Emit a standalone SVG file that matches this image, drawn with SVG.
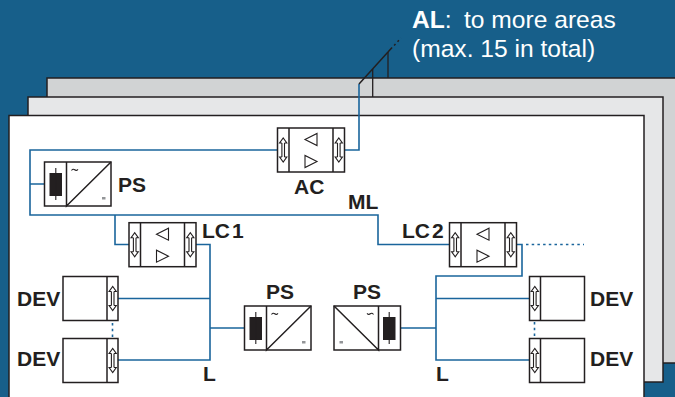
<svg xmlns="http://www.w3.org/2000/svg" width="675" height="397" viewBox="0 0 675 397">
<style>
.box{fill:#fff;stroke:#231f20;stroke-width:1.5}
.ln{fill:none;stroke:#231f20;stroke-width:1.5}
.thin{fill:none;stroke:#231f20;stroke-width:1.1}
.w{fill:none;stroke:#1a659c;stroke-width:1.6}
.d{fill:none;stroke:#1a659c;stroke-width:1.6;stroke-dasharray:2.5 3.2}
.t{font-family:"Liberation Sans",Arial,sans-serif;font-weight:700;font-size:21px;fill:#231f20}
.h{font-family:"Liberation Sans",Arial,sans-serif;font-size:24.6px;fill:#fff}
</style>
<defs>
<path id="arr" class="thin" d="M-1.3-7V7M1.3-7V7M-1.3-7H-3.6L0-12 3.6-7H1.3M-1.300 7H-3.600L0 12 3.600 7H1.300"/>
<g id="coupler">
<rect class="box" x="0" y="0" width="67" height="44"/>
<path class="ln" d="M11.500 0V44M55.500 0V44"/>
<use href="#arr" x="5.700" y="22"/><use href="#arr" x="61.300" y="22"/>
<path class="thin" d="M39.500 5.500V17.500L27.500 11.500ZM27.500 27.500V39.500L39.500 33.500Z"/>
</g>
<g id="dev">
<rect class="box" x="0" y="0" width="55" height="44"/>
<path class="ln" d="M44 0V44"/>
<use href="#arr" x="49.700" y="22"/>
</g>
<g id="ps">
<rect class="box" x="0" y="0" width="66.500" height="44"/>
<path class="ln" d="M22 0V44L66.500 0"/>
<rect x="5" y="11" width="12.500" height="23" fill="#231f20"/>
<path class="thin" d="M11.300 6V38"/>
<path class="thin" d="M27 8.500q1.500-2 3.200-.7t3.300-.5"/>
<rect x="57.500" y="35" width="3.500" height="2.500" fill="#939598"/>
</g>
</defs>
<rect width="675" height="397" fill="#175f8a"/>
<g id="sheet-3"><rect x="47" y="78" width="640" height="285" fill="#d1d3d4" stroke="#231f20" stroke-width="1.500"/></g>
<g id="sheet-2"><rect x="28" y="97" width="635" height="285" fill="#e6e7e8" stroke="#231f20" stroke-width="1.500"/></g>
<g id="sheet-1"><rect x="9" y="115.500" width="635" height="290" fill="#fff" stroke="#231f20" stroke-width="1.500"/></g>
<g id="connectors">
<path class="w" d="M277 150H30V215H378V244.500H450M30 184H44M115 215V244.500H129M196 244.500H210V360H118M118 298.500H210M210 328H244.500"/>
<path class="w" d="M345 150H359V84"/>
<path class="w" d="M516 244.500H522V276H436V360H529M436 298.500H529M400 328H436"/>
<path class="d" d="M526 244.500H584M112.500 323V338M534.500 322V337"/>
<path class="ln" d="M359 84L388 52"/>
<path class="ln" d="M388 52L401 38" stroke-dasharray="6 3 2 3 2 3"/>
<path fill="none" stroke="#231f20" stroke-width="1.300" d="M388 52V78"/>
<path fill="none" stroke="#231f20" stroke-width="1.300" d="M372.700 69V97"/>
</g>
<g id="AC"><use href="#coupler" x="277.500" y="128"/><text class="t" x="294" y="194">AC</text></g>
<g id="LC1"><use href="#coupler" x="129" y="222.700"/><text class="t" x="202" y="238">LC<tspan dx="2">1</tspan></text></g>
<g id="LC2"><use href="#coupler" x="449.500" y="222.700"/><text class="t" x="402" y="238">LC<tspan dx="2">2</tspan></text></g>
<g id="PS-top"><use href="#ps" x="44.500" y="162"/><text class="t" x="118" y="192">PS</text></g>
<g id="PS-left"><use href="#ps" x="244.500" y="306"/><text class="t" x="266" y="299">PS</text></g>
<g id="PS-right"><use href="#ps" transform="translate(400.500 306) scale(-1 1)"/><text class="t" x="353" y="299">PS</text></g>
<g id="DEV-1"><use href="#dev" x="63" y="276.500"/><text class="t" x="17" y="306">DEV</text></g>
<g id="DEV-2"><use href="#dev" x="63" y="338.500"/><text class="t" x="17" y="366">DEV</text></g>
<g id="DEV-3"><use href="#dev" transform="translate(584.500 276.500) scale(-1 1)"/><text class="t" x="590" y="306">DEV</text></g>
<g id="DEV-4"><use href="#dev" transform="translate(584.500 338.500) scale(-1 1)"/><text class="t" x="590" y="366">DEV</text></g>
<g id="labels">
<text class="t" x="348" y="209">ML</text>
<text class="t" x="203" y="381">L</text>
<text class="t" x="436" y="381">L</text>
<text class="h" x="412" y="28"><tspan font-weight="700">AL</tspan>:</text>
<text class="h" x="464" y="28">to more areas</text>
<text class="h" x="412" y="57">(max. 15 in total)</text>
</g>
</svg>
